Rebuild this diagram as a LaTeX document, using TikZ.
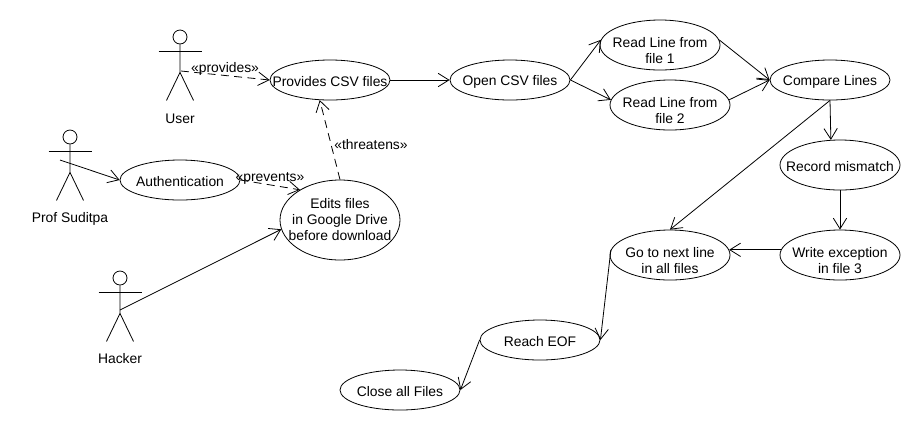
\documentclass[tikz,border=0pt]{standalone}
\usepackage{fontspec}
\setmainfont{Liberation Sans}
\usepackage{tikz}
\usetikzlibrary{arrows.meta, shapes.geometric}
\newcommand{\lowfirst}{\rule{0pt}{16.5pt}}
\tikzset{
  usecase/.style = {draw, ellipse, inner xsep = -30pt, inner ysep = -15pt, align = center, minimum width = 90pt, minimum height = 30pt, execute at begin node = {\rule{0pt}{10.5pt}}},
  tall/.style = {minimum height = 37.5pt},
  big/.style = {minimum height = 60pt},
  flow/.style = {-{Straight Barb[length = 8pt, width = 10pt]}},
  dep/.style = {flow, dash pattern = on 6pt off 4pt},
}

\begin{document}
\begin{tikzpicture}[x = 0.75pt, y = -0.75pt, line width = 0.6pt, font = \fontsize{10.4}{12}\selectfont]
\useasboundingbox (0, 0) rectangle (920, 430);
% actors
\foreach \name/\x/\y/\lab/\laby in {user/180/37/User/119, prof/70/137/Prof Suditpa/219, hacker/120/278/Hacker/359} {
  \node (\name head) at (\x, \y) [draw, circle, minimum size = 10.5pt, inner sep = 0pt] {};
  \draw (\name head.south) -- ++(0, 28) -- ++(-13.5, 28);
  \draw (\name head.south) ++(0, 28) -- ++(13.5, 28);
  \draw (\x - 21.5, \y + 14) -- (\x + 21.5, \y + 14);
  \node (\name label) at (\x, \laby) {\lab};
}
\coordinate (user) at (181, 71);
\coordinate (prof) at (60, 160);
\coordinate (hacker) at (120, 310);
% use cases
\node (provides) at (330, 80) [usecase] {Provides CSV files};
\node (open) at (510, 80) [usecase] {Open CSV files};
\node (readone) at (660, 45) [usecase, tall] {\lowfirst Read Line from\\file 1};
\node (readtwo) at (670, 105) [usecase, tall] {\lowfirst Read Line from\\file 2};
\node (compare) at (830, 80) [usecase] {Compare Lines};
\node (record) at (840, 165) [usecase, tall] {Record mismatch};
\node (write) at (840, 255) [usecase, tall] {\lowfirst Write exception\\in file 3};
\node (next) at (670, 255) [usecase, tall] {\lowfirst Go to next line\\in all files};
\node (eof) at (540, 340) [usecase] {Reach EOF};
\node (close) at (400, 390) [usecase] {Close all Files};
\node (auth) at (180, 180) [usecase] {Authentication};
\node (edits) at (340, 220) [usecase, big] {Edits files\\in Google Drive\\before download};
% connectors
\draw [dep] (user) -- (provides.west);
\draw [flow] (prof) -- (auth.west);
\draw [flow] (hacker) -- (edits.189);
\draw [dep] (auth.east) -- (edits.143);
\draw [dep] (edits.north) -- (provides.243);
\draw [flow] (provides.east) -- (open.west);
\draw [flow] (open.east) -- (readone.175);
\draw [flow] (open.east) -- (readtwo.175);
\draw [flow] (readone.5) -- (compare.west);
\draw [flow] (readtwo.5) -- (compare.west);
\draw [flow] (compare.south) -- (record.110);
\draw [flow] (compare.south) -- (next.north);
\draw [flow] (record.south) -- (write.north);
\draw [flow] (write.175) -- (next.5);
\draw [flow] (next.175) -- (eof.east);
\draw [flow] (eof.west) -- (close.east);
% stereotypes
\node (providestxt) at (225, 69) {«provides»};
\node (preventstxt) at (270, 178) {«prevents»};
\node (threatenstxt) at (371, 145) {«threatens»};
\end{tikzpicture}
\end{document}
